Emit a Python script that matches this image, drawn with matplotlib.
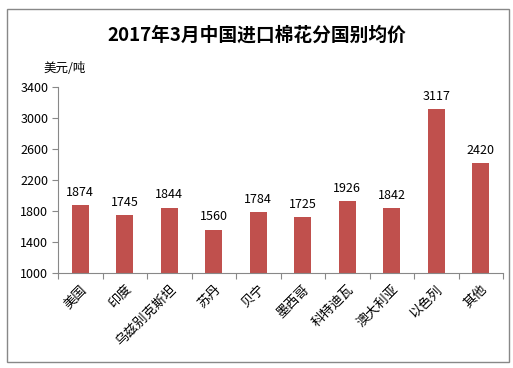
import matplotlib.pyplot as plt
from matplotlib.patches import Rectangle

plt.rcParams['font.family'] = ['Noto Sans CJK SC', 'DejaVu Sans']

countries = ['美国', '印度', '乌兹别克斯坦', '苏丹', '贝宁', '墨西哥', '科特迪瓦', '澳大利亚', '以色列', '其他']
prices = [1874, 1745, 1844, 1560, 1784, 1725, 1926, 1842, 3117, 2420]
yticks = [1000, 1400, 1800, 2200, 2600, 3000, 3400]

fig = plt.figure(figsize=(5.13, 3.68), dpi=100)
# outer frame
fig.patches.append(Rectangle((7 / 513, 6 / 368), 502 / 513, 353 / 368, transform=fig.transFigure,
                             fill=False, edgecolor='#888888', linewidth=1))

ax = fig.add_axes([58 / 513, 1 - 273 / 368, 445 / 513, (273 - 87) / 368])
x = range(len(countries))
bars = ax.bar(x, prices, width=0.38, color='#C0504D')
for xi, v in zip(x, prices):
    ax.text(xi, v + 80, str(v), ha='center', va='bottom', fontsize=9)

ax.set_ylim(1000, 3400)
ax.set_xlim(-0.5, len(countries) - 0.5)
ax.set_yticks(yticks)
ax.tick_params(axis='y', labelsize=9, length=4, color='#888888', pad=3)
ax.set_xticks([i - 0.5 for i in range(len(countries) + 1)], minor=False)
ax.set_xticklabels([])
ax.set_xticks(list(x), minor=True)
ax.set_xticklabels(countries, minor=True, rotation=45, ha='right', rotation_mode='anchor', fontsize=9.5)
ax.tick_params(axis='x', which='major', length=4, color='#888888', direction='out')
ax.tick_params(axis='x', which='minor', length=0, pad=7)
for s in ['top', 'right']:
    ax.spines[s].set_visible(False)
for s in ['left', 'bottom']:
    ax.spines[s].set_color('#888888')

fig.text(0.5, 1 - 35 / 368, '2017年3月中国进口棉花分国别均价', ha='center', va='center',
         fontsize=13.5, fontweight='bold')
fig.text(43 / 513, 1 - 69 / 368, '美元/吨', ha='left', va='center', fontsize=9)

fig.savefig('out.png', dpi=100)
